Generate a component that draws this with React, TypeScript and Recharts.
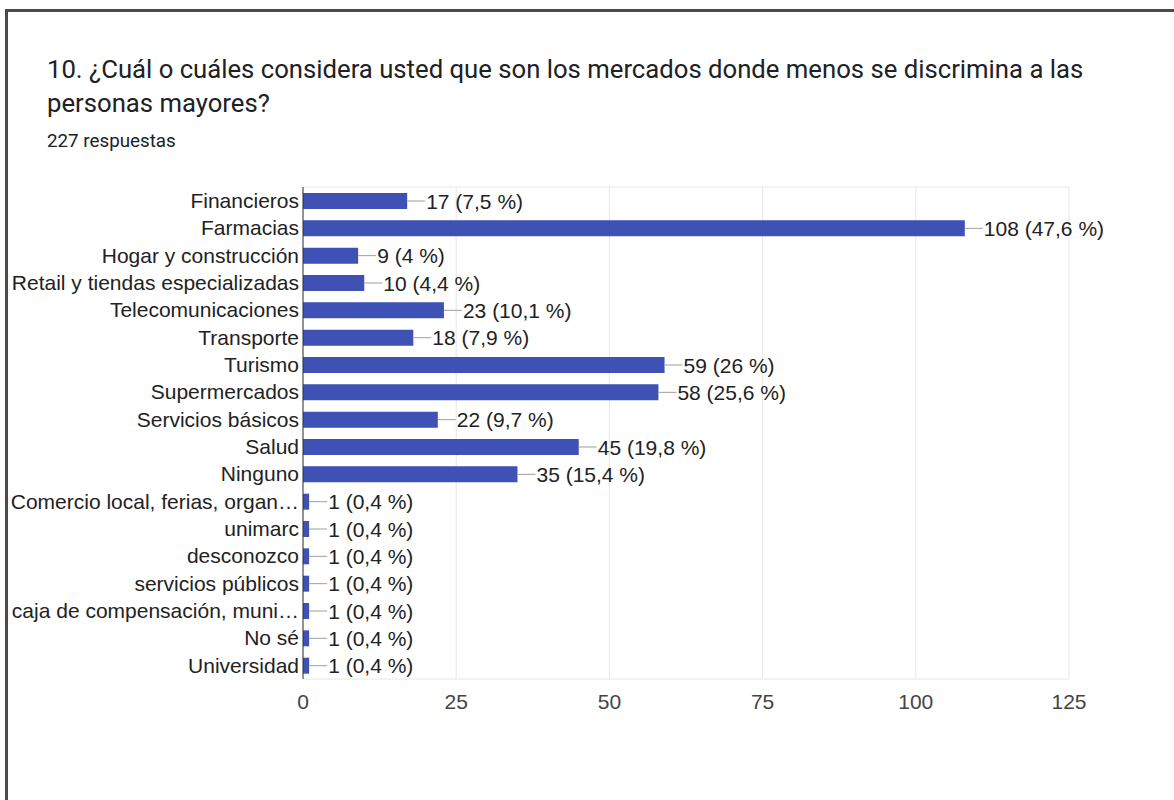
import React from "react";
import { BarChart, Bar, XAxis, YAxis, CartesianGrid, LabelList } from "recharts";

const categories = [
  "Financieros",
  "Farmacias",
  "Hogar y construcción",
  "Retail y tiendas especializadas",
  "Telecomunicaciones",
  "Transporte",
  "Turismo",
  "Supermercados",
  "Servicios básicos",
  "Salud",
  "Ninguno",
  "Comercio local, ferias, organ…",
  "unimarc",
  "desconozco",
  "servicios públicos",
  "caja de compensación, muni…",
  "No sé",
  "Universidad",
];
const values = [17, 108, 9, 10, 23, 18, 59, 58, 22, 45, 35, 1, 1, 1, 1, 1, 1, 1];
const percents = ["7,5", "47,6", "4", "4,4", "10,1", "7,9", "26", "25,6", "9,7", "19,8", "15,4", "0,4", "0,4", "0,4", "0,4", "0,4", "0,4", "0,4"];
const xTicks = [0, 25, 50, 75, 100, 125];

const data = categories.map((name, i) => ({
  name,
  value: values[i],
  label: `${values[i]} (${percents[i]} %)`,
}));

const FONT = "'Liberation Sans', Arial, sans-serif";

const renderLabel = (props: any) => {
  const { x, y, width, height, value } = props;
  const x0 = Number(x) + Number(width);
  const cy = Number(y) + Number(height) / 2;
  return (
    <g>
      <line x1={x0} x2={x0 + 18} y1={cy} y2={cy} stroke="#9e9e9e" strokeWidth={1} />
      <text x={x0 + 19} y={cy} dy="0.36em" fontSize={21} fill="#222" fontFamily={FONT}>
        {value}
      </text>
    </g>
  );
};

export default function App() {
  return (
    <div
      style={{
        position: "absolute",
        left: 0,
        top: 0,
        width: 1174,
        height: 800,
        overflow: "hidden",
        background: "#fff",
      }}
    >
      <div
        style={{
          position: "absolute",
          left: 5,
          top: 9,
          width: 1300,
          height: 900,
          border: "3px solid #4a4a4a",
          boxSizing: "border-box",
        }}
      />
      <div
        style={{
          position: "absolute",
          left: 47,
          top: 52,
          fontFamily: "Roboto, sans-serif",
          fontSize: 25.7,
          lineHeight: "34px",
          color: "#202124",
          whiteSpace: "nowrap",
        }}
      >
        10. ¿Cuál o cuáles considera usted que son los mercados donde menos se discrimina a las
        <br />
        personas mayores?
      </div>
      <div
        style={{
          position: "absolute",
          left: 47,
          top: 129,
          fontFamily: "Roboto, sans-serif",
          fontSize: 18.8,
          lineHeight: "24px",
          color: "#202124",
        }}
      >
        227 respuestas
      </div>
      <div style={{ position: "absolute", left: 0, top: 0 }}>
        <BarChart
          width={1174}
          height={800}
          data={data}
          layout="vertical"
          margin={{ top: 187, right: 105, bottom: 91, left: 0 }}
        >
          <CartesianGrid
            stroke="#e6e6e6"
            vertical={true}
            horizontalCoordinatesGenerator={({ offset }: any) => [offset.top, offset.top + offset.height]}
          />
          <XAxis
            type="number"
            domain={[0, 125]}
            ticks={xTicks}
            axisLine={false}
            tickLine={false}
            tickSize={0}
            tickMargin={15}
            height={30}
            tick={{ fontSize: 21, fill: "#444", fontFamily: FONT }}
          />
          <YAxis
            type="category"
            dataKey="name"
            width={303}
            interval={0}
            axisLine={{ stroke: "#333", strokeWidth: 1 }}
            tickLine={false}
            tickSize={0}
            tickMargin={4}
            tick={{ fontSize: 21, fill: "#222", fontFamily: FONT }}
          />
          <Bar dataKey="value" fill="#3f51b5" barSize={16} isAnimationActive={false}>
            <LabelList dataKey="label" content={renderLabel} />
          </Bar>
        </BarChart>
      </div>
    </div>
  );
}
